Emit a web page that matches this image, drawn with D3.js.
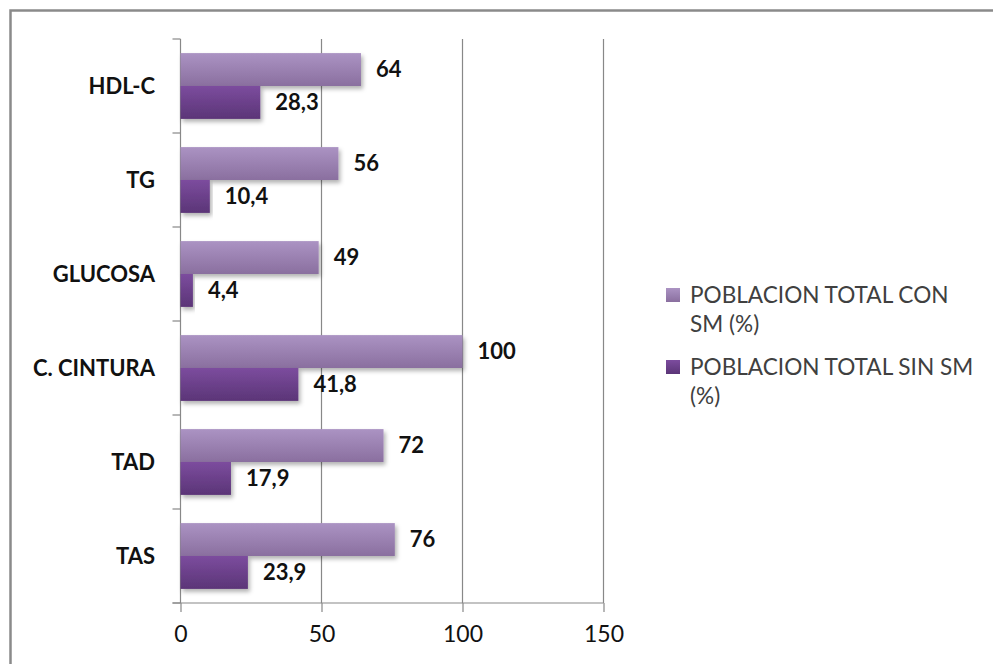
<!DOCTYPE html>
<html>
<head>
<meta charset="utf-8">
<script src="https://cdn.jsdelivr.net/npm/d3@7"></script>
<style>
  body { margin: 0; background: #fff; }
  text { font-family: Lato, "Open Sans", sans-serif; }
</style>
</head>
<body>
<script>

var width = 993,
  height = 664;

// data
var categories = ["HDL-C", "TG", "GLUCOSA", "C. CINTURA", "TAD", "TAS"];
var conSM = [64, 56, 49, 100, 72, 76];
var sinSM = [28.3, 10.4, 4.4, 41.8, 17.9, 23.9];
var seriesNames = ["POBLACION TOTAL CON SM (%)", "POBLACION TOTAL SIN SM (%)"];
var legendLines = [["POBLACION TOTAL CON", "SM (%)"], ["POBLACION TOTAL SIN SM", "(%)"]];
var xTicks = [0, 50, 100, 150];

var svg = d3.select("body").append("svg")
  .attr("width", width)
  .attr("height", height);

var defs = svg.append("defs");

function grad(id, c1, c2) {
  var g = defs.append("linearGradient").attr("id", id)
    .attr("x1", 0).attr("y1", 0).attr("x2", 0).attr("y2", 1);
  g.append("stop").attr("offset", "0%").attr("stop-color", c1);
  g.append("stop").attr("offset", "100%").attr("stop-color", c2);
}
grad("gCon", "#ab93c3", "#8a6f9f");
grad("gSin", "#7c4c9e", "#5b3577");

var shadow = defs.append("filter").attr("id", "shadow")
  .attr("x", "-5%").attr("y", "-20%").attr("width", "115%").attr("height", "160%");
shadow.append("feDropShadow")
  .attr("dx", 2).attr("dy", 3).attr("stdDeviation", 2)
  .attr("flood-color", "#000").attr("flood-opacity", 0.3);

// outer frame
svg.append("rect")
  .attr("x", 10.5).attr("y", 10.5)
  .attr("width", 1100).attr("height", 800)
  .attr("fill", "none")
  .attr("stroke", "#8a8a8a")
  .attr("stroke-width", 2.5);

var plotLeft = 180.5, plotRight = 603.5, plotTop = 39, plotBottom = 603;

var x = d3.scaleLinear().domain([0, 150]).range([plotLeft, plotRight]);
var y = d3.scaleBand().domain(categories).range([plotTop, plotBottom])
  .paddingInner(0.3).paddingOuter(0.15);
var sub = d3.scaleBand().domain([0, 1]).range([0, y.bandwidth()]);

// gridlines
svg.append("g").selectAll("line")
  .data(xTicks.slice(1))
  .enter().append("line")
  .attr("x1", function(d){return x(d)})
  .attr("x2", function(d){return x(d)})
  .attr("y1", plotTop).attr("y2", plotBottom)
  .attr("stroke", "#888").attr("stroke-width", 1.2);

// x axis
var xAxis = svg.append("g")
  .attr("transform", "translate(0," + plotBottom + ")")
  .call(d3.axisBottom(x).tickValues(xTicks).tickSize(9).tickPadding(14));
xAxis.select(".domain").attr("d", "M" + (plotLeft - 8) + ",0H" + plotRight).attr("stroke", "#888").attr("stroke-width", 1.2);
xAxis.selectAll(".tick line").attr("stroke", "#888").attr("stroke-width", 1.2);
xAxis.selectAll("text")
  .style("font-family", "Lato, sans-serif")
  .attr("font-size", 23).attr("fill", "#111");

// y axis line with ticks between categories
var bounds = [plotTop];
var step = y.step();
for (var i = 1; i <= categories.length; i++) bounds.push(plotTop + step * i);
svg.append("line")
  .attr("x1", plotLeft).attr("x2", plotLeft).attr("y1", plotTop).attr("y2", plotBottom)
  .attr("stroke", "#888").attr("stroke-width", 1.2);
svg.append("g").selectAll("line")
  .data(bounds)
  .enter().append("line")
  .attr("x1", plotLeft - 8).attr("x2", plotLeft)
  .attr("y1", function(d){return d}).attr("y2", function(d){return d})
  .attr("stroke", "#888").attr("stroke-width", 1.2);

// category labels
svg.append("g").selectAll("text")
  .data(categories)
  .enter().append("text")
  .attr("x", 155)
  .attr("y", function(d){return y(d) + y.bandwidth() / 2})
  .attr("dy", "0.36em")
  .attr("text-anchor", "end")
  .attr("font-weight", "bold")
  .attr("font-size", 22)
  .attr("fill", "#111")
  .text(function(d){return d});

var fmt = function(v){ return String(v).replace(".", ","); };

var series = [conSM, sinSM];
var fills = ["url(#gCon)", "url(#gSin)"];

series.forEach(function(vals, s) {
  var data = categories.map(function(c, i){ return {cat: c, v: vals[i]}; });
  var g = svg.append("g");
  g.selectAll("rect")
    .data(data)
    .enter().append("rect")
    .attr("x", plotLeft)
    .attr("y", function(d){return y(d.cat) + sub(s)})
    .attr("width", function(d){return x(d.v) - plotLeft})
    .attr("height", sub.bandwidth())
    .attr("fill", fills[s])
    .attr("filter", "url(#shadow)");
  g.selectAll("text")
    .data(data)
    .enter().append("text")
    .attr("x", function(d){return x(d.v) + 15})
    .attr("y", function(d){return y(d.cat) + sub(s) + sub.bandwidth() / 2})
    .attr("dy", "0.36em")
    .attr("font-weight", "bold")
    .attr("font-size", 22)
    .attr("fill", "#111")
    .text(function(d){return fmt(d.v)});
});

// legend
var legend = svg.append("g").selectAll("g")
  .data(seriesNames)
  .enter().append("g")
  .attr("transform", function(d, i){return "translate(666," + (288 + i * 72) + ")"});
legend.append("rect")
  .attr("width", 14).attr("height", 14)
  .attr("fill", function(d, i){return fills[i]});
legend.append("text")
  .attr("x", 24).attr("y", 15)
  .attr("font-size", 22.6)
  .attr("fill", "#404040")
  .selectAll("tspan")
  .data(function(d, i){return legendLines[i]})
  .enter().append("tspan")
  .attr("x", 24)
  .attr("dy", function(d, j){return j === 0 ? 0 : 29})
  .text(function(d){return d});

</script>
</body>
</html>
